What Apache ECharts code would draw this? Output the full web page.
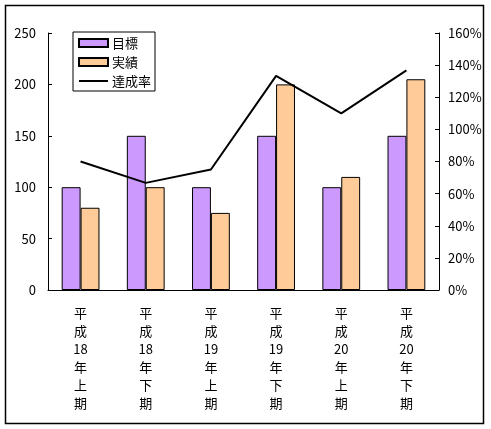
<!DOCTYPE html>
<html>
<head>
<meta charset="utf-8">
<script src="https://cdn.jsdelivr.net/npm/echarts@6/dist/echarts.min.js"></script>
<style>
  html, body { margin: 0; padding: 0; background: #fff; }
  #main { width: 491px; height: 429px; }
</style>
</head>
<body>
<div id="main"></div>
<script>
const categories = ['平成18年上期', '平成18年下期', '平成19年上期', '平成19年下期', '平成20年上期', '平成20年下期'];
const targetData = [100, 150, 100, 150, 100, 150];   // 目標
const actualData = [80, 100, 75, 200, 110, 205];     // 実績
const rateData = [80, 66.7, 75, 133.3, 110, 136.7];  // 達成率 (%)

const font = '"Noto Sans CJK JP", "Noto Sans", sans-serif';
const chart = echarts.init(document.getElementById('main'));

chart.setOption({
  animation: false,
  textStyle: { fontFamily: font, color: '#000' },
  graphic: [{
    type: 'rect',
    shape: { x: 5.5, y: 5.5, width: 478, height: 418 },
    style: { fill: 'none', stroke: '#000', lineWidth: 1.5 },
    z: 0
  }],
  grid: { left: 48, right: 52, top: 33, bottom: 139 },
  legend: {
    orient: 'vertical',
    left: 73,
    top: 32,
    itemWidth: 29,
    itemHeight: 8,
    itemGap: 5,
    padding: [4, 4, 3, 5],
    borderColor: '#000',
    borderWidth: 1,
    backgroundColor: '#fff',
    textStyle: { fontSize: 13, lineHeight: 14, color: '#000', fontFamily: font, padding: [0, 0, 0, -1] },
    data: [
      { name: '目標', icon: 'rect' },
      { name: '実績', icon: 'rect' },
      { name: '達成率', itemStyle: { opacity: 0 } }
    ]
  },
  xAxis: {
    type: 'category',
    data: categories,
    axisLine: { lineStyle: { color: '#000', width: 1 } },
    axisTick: { inside: true, length: 4, lineStyle: { color: '#000' } },
    axisLabel: {
      interval: 0,
      margin: 14,
      fontSize: 13,
      lineHeight: 18,
      color: '#000',
      formatter: v => v.match(/\d+|./g).join('\n')
    }
  },
  yAxis: [{
    type: 'value',
    min: 0,
    max: 250,
    interval: 50,
    splitLine: { show: false },
    axisLine: { show: true, lineStyle: { color: '#000' } },
    axisTick: { show: true, inside: true, length: 4, lineStyle: { color: '#000' } },
    axisLabel: { fontSize: 13, color: '#000', margin: 12 }
  }, {
    type: 'value',
    min: 0,
    max: 160,
    interval: 20,
    position: 'right',
    splitLine: { show: false },
    axisLine: { show: true, lineStyle: { color: '#000' } },
    axisTick: { show: true, inside: true, length: 4, lineStyle: { color: '#000' } },
    axisLabel: { fontSize: 13, color: '#000', margin: 9, formatter: '{value}%' }
  }],
  series: [{
    name: '目標',
    type: 'bar',
    data: targetData,
    barGap: '0%',
    barCategoryGap: '42%',
    itemStyle: { color: '#CC99FF', borderColor: '#000', borderWidth: 1 }
  }, {
    name: '実績',
    type: 'bar',
    data: actualData,
    itemStyle: { color: '#FFCC99', borderColor: '#000', borderWidth: 1 }
  }, {
    name: '達成率',
    type: 'line',
    yAxisIndex: 1,
    data: rateData,
    symbol: 'none',
    lineStyle: { color: '#000', width: 2 },
    itemStyle: { color: '#000' },
    z: 5
  }]
});
</script>
</body>
</html>
